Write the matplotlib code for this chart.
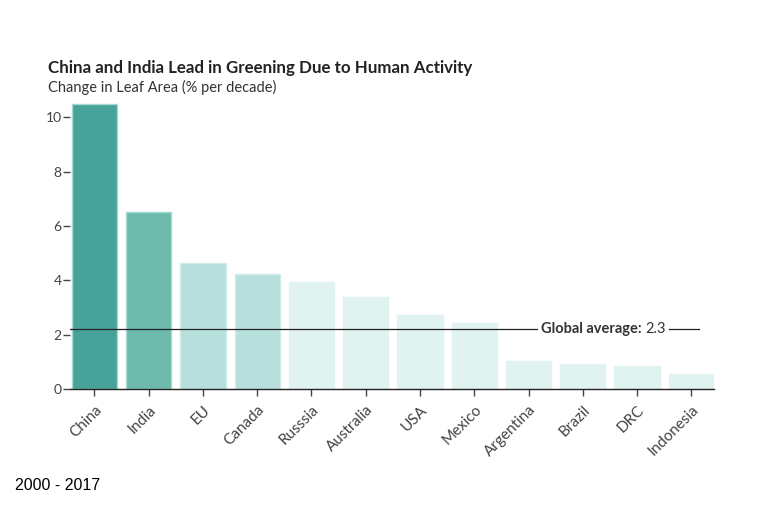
import matplotlib
matplotlib.use("Agg")
import matplotlib.pyplot as plt

countries = ["China", "India", "EU", "Canada", "Russsia", "Australia", "USA",
             "Mexico", "Argentina", "Brazil", "DRC", "Indonesia"]
values = [10.5, 6.5, 4.63, 4.23, 3.94, 3.38, 2.72, 2.43, 1.03, 0.92, 0.85, 0.55]
colors = ["#47a39a", "#6dbaad", "#b7e0dc", "#b7e0dc", "#e0f3f1", "#e0f3f1",
          "#e0f3f1", "#e0f3f1", "#e0f3f1", "#e0f3f1", "#e0f3f1", "#e0f3f1"]
edges = ["#a6dad3", "#a6dad3", "#d0ece9", "#d0ece9", "#e0f3f1", "#e0f3f1",
         "#e0f3f1", "#e0f3f1", "#e0f3f1", "#e0f3f1", "#e0f3f1", "#e0f3f1"]
yticks = [0, 2, 4, 6, 8, 10]
global_avg_label = "2.3"
global_avg_line = 2.2

plt.rcParams['font.family'] = ['Lato', 'DejaVu Sans']

W, H = 775, 525
fig = plt.figure(figsize=(7.75, 5.25), dpi=100)
ax = fig.add_axes([70/W, 136/H, 644/W, 286/H])

x = list(range(len(countries)))
ax.bar(x, values, width=0.834, color=colors, edgecolor=edges, linewidth=1.0, zorder=2)
ax.set_xlim(-0.45, 11.417)
ax.set_ylim(0, 10.52)

for s in ["top", "right", "left"]:
    ax.spines[s].set_visible(False)
ax.spines["bottom"].set_color("#222222")
ax.spines["bottom"].set_linewidth(1.0)

ax.set_yticks(yticks)
ax.set_yticklabels([str(t) for t in yticks])
ax.tick_params(axis="y", length=5, width=1, color="#444444", labelcolor="#444444",
               labelsize=10, pad=1)
ax.set_xticks(x)
ax.set_xticklabels(countries, rotation=45, ha="right", rotation_mode="anchor")
ax.tick_params(axis="x", length=5, width=1, color="#444444", labelcolor="#444444",
               labelsize=11, pad=5)

# global average line (positions in axes pixel offsets)
fig.canvas.draw()
ydisp = ax.transData.transform((0, global_avg_line))[1]
inv = ax.transData.inverted()
def xdata(px):
    return inv.transform((px, ydisp))[0]

ax.plot([xdata(70), xdata(537)], [global_avg_line, global_avg_line],
        color="#222222", lw=0.9, zorder=3)
t1 = ax.text(xdata(541), global_avg_line, "Global average: ", fontsize=10.5,
             fontweight="bold", color="#333333", va="center", ha="left", zorder=4)
fig.canvas.draw()
bb = t1.get_window_extent()
t2 = ax.text(xdata(bb.x1), global_avg_line, global_avg_label, fontsize=10.5,
             color="#333333", va="center", ha="left", zorder=4)
fig.canvas.draw()
bb2 = t2.get_window_extent()
ax.plot([xdata(bb2.x1 + 3), xdata(699)], [global_avg_line, global_avg_line],
        color="#222222", lw=0.9, zorder=3)

fig.text(48/W, 1 - 68/H, "China and India Lead in Greening Due to Human Activity",
         fontsize=12.2, fontweight="bold", color="#222222", va="center", ha="left")
fig.text(48/W, 1 - 87/H, "Change in Leaf Area (% per decade)",
         fontsize=10.5, color="#333333", va="center", ha="left")
fig.text(15/W, 1 - 485/H, "2000 - 2017", fontsize=11.5, color="#000000",
         va="center", ha="left", family=["Liberation Sans", "DejaVu Sans"])

fig.savefig("out.png", dpi=100)
